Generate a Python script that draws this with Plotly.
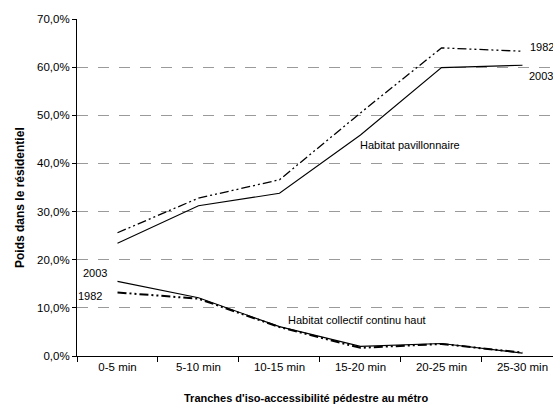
import plotly.graph_objects as go

categories = ["0-5 min", "5-10 min", "10-15 min", "15-20 min", "20-25 min", "25-30 min"]
pav_2003 = [0.234, 0.312, 0.338, 0.459, 0.599, 0.604]
pav_1982 = [0.256, 0.328, 0.366, 0.505, 0.640, 0.633]
coll_2003 = [0.155, 0.121, 0.061, 0.020, 0.026, 0.006]
coll_1982 = [0.132, 0.119, 0.060, 0.017, 0.025, 0.007]
y_ticks = [0, 0.1, 0.2, 0.3, 0.4, 0.5, 0.6, 0.7]

FONT = "Liberation Sans, Arial, sans-serif"
dashdot = "9px,3px,2px,3px,2px,3px"

fig = go.Figure()
fig.add_trace(go.Scatter(x=categories, y=pav_1982, mode="lines",
                         line=dict(color="black", width=1.3, dash=dashdot), showlegend=False))
fig.add_trace(go.Scatter(x=categories, y=pav_2003, mode="lines",
                         line=dict(color="black", width=1.1), showlegend=False))
fig.add_trace(go.Scatter(x=categories, y=coll_1982, mode="lines",
                         line=dict(color="black", width=2, dash=dashdot), showlegend=False))
fig.add_trace(go.Scatter(x=categories, y=coll_2003, mode="lines",
                         line=dict(color="black", width=1.1), showlegend=False))

ann_font = dict(family=FONT, size=11, color="black")
annotations = [
    dict(x=5, y=0.642, text="1982", xanchor="left", xs=6),
    dict(x=5, y=0.582, text="2003", xanchor="left", xs=5),
    dict(x=3, y=0.438, text="Habitat pavillonnaire", xanchor="left", xs=-2),
    dict(x=2, y=0.074, text="Habitat collectif continu haut", xanchor="left", xs=7),
    dict(x=0, y=0.1726, text="2003", xanchor="right", xs=-9),
    dict(x=0, y=0.124, text="1982", xanchor="right", xs=-14),
]
for a in annotations:
    fig.add_annotation(x=a["x"], y=a["y"], text=a["text"], xanchor=a["xanchor"],
                       xshift=a["xs"], showarrow=False, font=ann_font)

# axis titles
fig.add_annotation(xref="paper", yref="paper", x=(306 - 77) / 476, y=-(398 - 356) / 337,
                   text="<b>Tranches d'iso-accessibilité pédestre au métro</b>",
                   showarrow=False, xanchor="center", yanchor="middle",
                   font=dict(family=FONT, size=11, color="black"))
fig.add_annotation(xref="paper", yref="paper", x=-(77 - 20) / 476, y=(356 - 198) / 337,
                   text="<b>Poids dans le résidentiel</b>", textangle=-90,
                   showarrow=False, xanchor="center", yanchor="middle",
                   font=dict(family=FONT, size=12, color="black"))

fig.update_layout(
    width=553, height=407,
    margin=dict(l=77, r=0, t=19, b=51, autoexpand=False),
    plot_bgcolor="white", paper_bgcolor="white",
    separators=", ",
    font=dict(family=FONT, size=11, color="black"),
    xaxis=dict(
        type="category", range=[-0.5, 5.377], automargin=False,
        showline=True, linecolor="black", linewidth=1,
        ticks="outside", ticklen=5, tickcolor="black", tickson="boundaries",
        showgrid=False, zeroline=False,
        tickfont=dict(family=FONT, size=11.5),
    ),
    yaxis=dict(
        range=[0, 0.7], tickvals=y_ticks, automargin=False,
        tickformat=".1%",
        showline=True, linecolor="black", linewidth=1,
        ticks="outside", ticklen=4, tickcolor="black",
        showgrid=True, gridcolor="#9a9a9a", gridwidth=1, griddash="11px,10px",
        zeroline=False,
        tickfont=dict(family=FONT, size=11.5),
    ),
)

# remove the default page margin so the figure fills the window exactly
fig.write_html("out.html", config={"displayModeBar": False},
               post_script="document.body.style.margin='0';document.body.style.overflow='hidden';")
